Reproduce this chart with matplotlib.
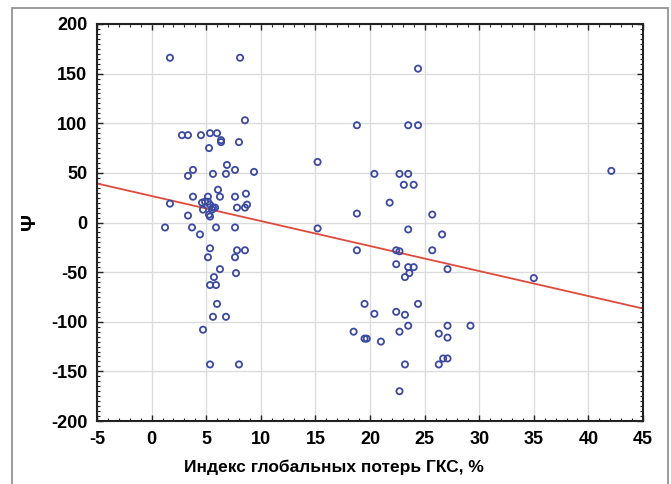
import numpy as np
import matplotlib
matplotlib.use("Agg")
import matplotlib.pyplot as plt
from matplotlib.ticker import MultipleLocator
from matplotlib.patches import Rectangle

# Index of global GCS losses, %
x_vals = [
    1.68, 8.1, 8.55, 2.78, 3.33, 4.52, 5.35, 5.99, 6.36, 6.36, 8.0, 5.26,
    3.79, 3.33, 5.62, 6.9, 6.81, 7.64, 9.38, 6.08, 3.79, 1.68, 5.16, 6.26,
    7.64, 8.64, 8.74, 8.55, 7.82, 4.62, 4.89, 5.16, 5.35, 5.62, 5.81, 4.71,
    5.53, 5.26, 5.35, 3.33, 1.23, 3.7, 4.43, 5.9, 7.64, 5.35, 7.82, 8.55,
    5.16, 7.64, 6.26, 7.73, 5.71, 5.35, 5.9, 5.99, 5.62, 6.81, 4.71, 5.35,
    8.0,
    24.4, 18.8, 23.5, 24.4, 15.2, 20.4, 22.7, 23.5, 23.1, 24.0, 21.8, 18.8,
    25.7, 23.5, 26.6, 15.2, 18.8, 22.4, 22.7, 25.7, 22.4, 23.5, 24.0, 23.6,
    23.2, 27.1, 19.5, 24.4, 20.4, 22.4, 23.2, 23.5, 27.1, 29.2, 18.5, 22.7,
    26.3, 27.1, 19.5, 19.7, 21.0, 26.7, 27.1, 26.3, 23.2, 22.7,
    42.1, 35.0,
]
# Psi values
y_vals = [
    166, 166, 103, 88, 88, 88, 90, 90, 83, 81, 81, 75,
    53, 47, 49, 58, 49, 53, 51, 33, 26, 19, 26, 26,
    26, 29, 18, 15, 15, 20, 21, 21, 18, 15, 15, 13,
    13, 8, 6, 7, -5, -5, -12, -5, -5, -26, -28, -28,
    -35, -35, -47, -51, -55, -63, -63, -82, -95, -95, -108, -143,
    -143,
    155, 98, 98, 98, 61, 49, 49, 49, 38, 38, 20, 9,
    8, -7, -12, -6, -28, -28, -29, -28, -42, -45, -45, -51,
    -55, -47, -82, -82, -92, -90, -93, -104, -104, -104, -110, -110,
    -112, -116, -117, -117, -120, -137, -137, -143, -143, -170,
    52, -56,
]
# Regression line as drawn in the original chart
fit_slope = -2.52
fit_intercept = 26.7

x_ticks = [-5, 0, 5, 10, 15, 20, 25, 30, 35, 40, 45]
y_ticks = [-200, -150, -100, -50, 0, 50, 100, 150, 200]
x_label = "Индекс глобальных потерь ГКС, %"
y_label = "Ψ"

plt.rcParams['font.family'] = ['Liberation Sans', 'DejaVu Sans']
plt.rcParams['font.weight'] = 'bold'
plt.rcParams['axes.unicode_minus'] = False

W, H = 671, 484
fig = plt.figure(figsize=(W / 100, H / 100), dpi=100)
fig.patches.append(Rectangle((12 / W, -0.05), (668 - 12) / W, 1.05 - 8 / H,
                             transform=fig.transFigure, fill=False,
                             edgecolor='#8a8a8a', linewidth=1.2))

ax = fig.add_axes([97 / W, 1 - 421 / H, (643 - 97) / W, (421 - 24) / H])

ax.grid(True, color='#dcdcdc', linewidth=1.0, zorder=0)
ax.set_axisbelow(True)

xs = np.array(x_vals)
ys = np.array(y_vals)
line_x = np.array([x_ticks[0], x_ticks[-1]])
ax.plot(line_x, fit_intercept + fit_slope * line_x, color='#e04a3c',
        linewidth=1.3, zorder=2)

ax.scatter(xs, ys, s=20, facecolors='none', edgecolors='#3b4aa0',
           linewidths=1.3, zorder=3)

ax.set_xlim(x_ticks[0], x_ticks[-1])
ax.set_ylim(y_ticks[0], y_ticks[-1])
ax.set_xticks(x_ticks)
ax.set_yticks(y_ticks)
ax.xaxis.set_minor_locator(MultipleLocator(1))
ax.yaxis.set_minor_locator(MultipleLocator(5))
ax.tick_params(which='both', direction='in', top=True, right=True,
               colors='#222222', labelcolor='black')
ax.tick_params(which='major', length=4, width=1.0, labelsize=13, pad=7)
ax.tick_params(which='minor', length=2.5, width=0.8)
for lab in ax.get_xticklabels() + ax.get_yticklabels():
    lab.set_fontweight('bold')

for sp in ax.spines.values():
    sp.set_linewidth(1.5)
    sp.set_color('#222222')

ax.set_xlabel(x_label, fontsize=12.5, fontweight='bold')
ax.xaxis.set_label_coords((334 - 97) / (643 - 97), -(467 - 421) / (421 - 24))
ax.xaxis.label.set_va('center')
fig.text(30 / W, 1 - 222 / H, y_label, rotation=90, fontsize=15,
         fontweight='bold', ha='center', va='center')

fig.savefig("out.png", dpi=100)
